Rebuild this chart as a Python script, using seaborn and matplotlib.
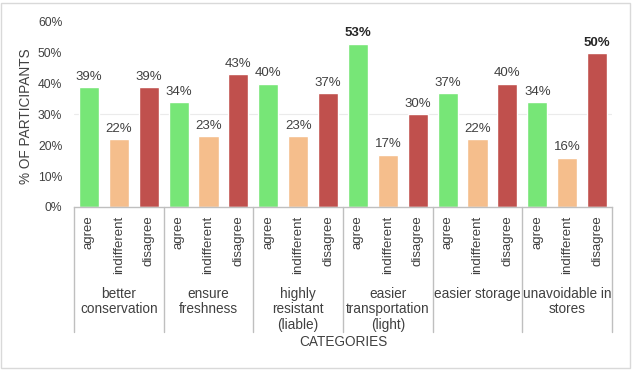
import matplotlib
matplotlib.use("Agg")
import matplotlib.pyplot as plt
import matplotlib.transforms as mtransforms
from matplotlib.patches import Rectangle
import numpy as np
import pandas as pd
import seaborn as sns

# data
categories = [
    "better\nconservation",
    "ensure\nfreshness",
    "highly\nresistant\n(liable)",
    "easier\ntransportation\n(light)",
    "easier storage",
    "unavoidable in\nstores",
]
responses = ["agree", "indifferent", "disagree"]
agree = [39, 34, 40, 53, 37, 34]
indifferent = [22, 23, 23, 17, 22, 16]
disagree = [39, 43, 37, 30, 40, 50]

colors = {"agree": "#77E677", "indifferent": "#F5BE8C", "disagree": "#C0504D"}
TEXT = "#404040"

rows = []
for i, cat in enumerate(categories):
    for resp, vals in zip(responses, [agree, indifferent, disagree]):
        rows.append({"slot": f"{i}-{resp}", "category": cat, "response": resp, "value": vals[i]})
df = pd.DataFrame(rows)

sns.set_theme(style="white")
plt.rcParams["font.family"] = ["Liberation Sans", "DejaVu Sans"]

fig = plt.figure(figsize=(6.32, 3.71), dpi=100)
ax = fig.add_axes([74 / 632, 1 - 207 / 371, 538 / 632, 185 / 371])

sns.barplot(
    data=df, x="slot", y="value", hue="response", hue_order=responses,
    order=df["slot"].tolist(), palette=colors, dodge=False, width=0.67,
    saturation=1, legend=False, ax=ax,
)

for cont in ax.containers:
    labels = [f"{b.get_height():.0f}%" for b in cont]
    texts = ax.bar_label(cont, labels=labels, padding=3, fontsize=9.5, color=TEXT)
    for t, b in zip(texts, cont):
        if b.get_height() >= 50:
            t.set_fontweight("bold")
            t.set_color("#262626")

ax.set_ylim(0, 60)
ax.set_xlim(-0.5, len(df) - 0.5)
ax.set_yticks(np.arange(0, 61, 10))
ax.set_yticklabels([f"{v}%" for v in range(0, 61, 10)], fontsize=8.7, color=TEXT)
ax.axhline(30, color="#EBEBEB", lw=0.8, zorder=0)

ax.set_xticks(np.arange(len(df)))
ax.set_xticklabels(df["response"].tolist(), rotation=90, fontsize=9.5, color=TEXT)
ax.tick_params(axis="both", length=0)
ax.tick_params(axis="x", pad=6)
ax.tick_params(axis="y", pad=8.5)

for s in ["top", "right", "left"]:
    ax.spines[s].set_visible(False)
ax.spines["bottom"].set_color("#BFBFBF")
ax.spines["bottom"].set_linewidth(1)

trans = mtransforms.blended_transform_factory(ax.transData, ax.transAxes)
for g in range(len(categories) + 1):
    xg = g * 3 - 0.5
    ax.plot([xg, xg], [0, -0.676], transform=trans, color="#BFBFBF", lw=1, clip_on=False)
for g, cat in enumerate(categories):
    ax.text(g * 3 + 1, -0.43, cat, transform=trans, ha="center", va="top",
            fontsize=9.8, color=TEXT, linespacing=1.15)

ax.set_xlabel("")
ax.set_ylabel("")
ax.text(0.5, -0.73, "CATEGORIES", transform=ax.transAxes, ha="center", va="center",
        fontsize=9.8, color=TEXT)
ax.text(-0.089, 0.49, "% OF PARTICIPANTS", transform=ax.transAxes, ha="center",
        va="center", rotation=90, fontsize=9.8, color=TEXT)

fig.patches.append(Rectangle((1 / 632, 3 / 371), 629 / 632, 365 / 371,
                             transform=fig.transFigure, fill=False,
                             edgecolor="#D9D9D9", lw=1))

fig.savefig("out.png", dpi=100)
